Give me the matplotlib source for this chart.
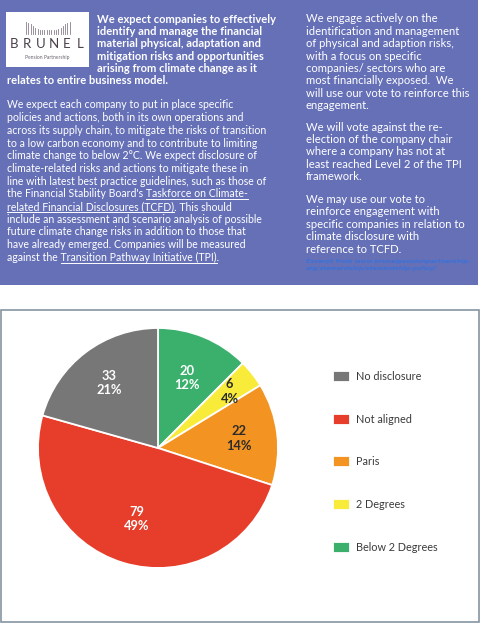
import matplotlib.pyplot as plt
import numpy as np
from matplotlib.patches import Rectangle
from matplotlib.lines import Line2D

W, H = 480, 623

# pie data (clockwise from 12 o'clock)
categories = ["Below 2 Degrees", "2 Degrees", "Paris", "Not aligned", "No disclosure"]
counts = [20, 6, 22, 79, 33]
colors = ["#3bb06c", "#f8eb3a", "#f39322", "#e73d2b", "#777777"]
label_colors = ["white", "#2b2b2b", "#2b2b2b", "white", "white"]
label_radius = [0.63, 0.76, 0.68, 0.62, 0.68]
legend_order = ["No disclosure", "Not aligned", "Paris", "2 Degrees", "Below 2 Degrees"]

heading_lines = [
    "We expect companies to effectively",
    "identify and manage the financial",
    "material physical, adaptation and",
    "mitigation risks and opportunities",
    "arising from climate change as it",
    "relates to entire business model.",
]

# (prefix, underlined part, suffix)
body_lines = [
    ("We expect each company to put in place specific", "", ""),
    ("policies and actions, both in its own operations and", "", ""),
    ("across its supply chain, to mitigate the risks of transition", "", ""),
    ("to a low carbon economy and to contribute to limiting", "", ""),
    ("climate change to below 2°C. We expect disclosure of", "", ""),
    ("climate-related risks and actions to mitigate these in", "", ""),
    ("line with latest best practice guidelines, such as those of", "", ""),
    ("the Financial Stability Board's ", "Taskforce on Climate-", ""),
    ("", "related Financial Disclosures (TCFD)", ". This should"),
    ("include an assessment and scenario analysis of possible", "", ""),
    ("future climate change risks in addition to those that", "", ""),
    ("have already emerged. Companies will be measured", "", ""),
    ("against the ", "Transition Pathway Initiative (TPI)", "."),
]

right_paragraphs = [
    ["We engage actively on the",
     "identification and management",
     "of physical and adaption risks,",
     "with a focus on specific",
     "companies/ sectors who are",
     "most financially exposed.  We",
     "will use our vote to reinforce this",
     "engagement."],
    ["We will vote against the re-",
     "election of the company chair",
     "where a company has not at",
     "least reached Level 2 of the TPI",
     "framework."],
    ["We may use our vote to",
     "reinforce engagement with",
     "specific companies in relation to",
     "climate disclosure with",
     "reference to TCFD."],
]

excerpt_lines = [
    "Excerpt from www.brunelpensionpartnership.",
    "org/stewardship/stewardship-policy/",
]

logo_bars = [12, 11, 10, 8, 6, 5, 4, 4, 4, 4, 4, 4, 4, 4, 5, 6, 8, 10, 11, 12]

PURPLE = "#6570b7"
FONT = "Lato"


def px(x, y):
    return x / W, 1 - y / H


fig = plt.figure(figsize=(W / 100, H / 100), dpi=100)
fig.patch.set_facecolor("white")
renderer = fig.canvas.get_renderer()


def text_width(s, **kw):
    t = fig.text(0, 0, s, **kw)
    w = t.get_window_extent(renderer).width
    t.remove()
    return w


# ---- top text panel ----
fig.patches.append(Rectangle(px(0, 285), 478 / W, 285 / H, transform=fig.transFigure,
                             facecolor=PURPLE, edgecolor="none", zorder=-2))
fig.patches.append(Rectangle(px(6, 67), 83 / W, 55 / H, transform=fig.transFigure,
                             facecolor="white", edgecolor="none", zorder=-1))

# logo
for i, h in enumerate(logo_bars):
    x = 26 + i * 2.3
    fig.add_artist(Line2D([x / W, x / W], [1 - 34 / H, 1 - (34 - h) / H],
                          transform=fig.transFigure, color="#8a7f8c", lw=0.6))
for i, ch in enumerate("BRUNEL"):
    fig.text(*px(14 + i * 13.2, 43.5), ch, fontsize=9.5, family=FONT, color="#4a414b",
             ha="center", va="center")
fig.text(*px(47.5, 57), "Pension Partnership", fontsize=3.6, family=FONT,
         color="#6b6470", ha="center", va="center")

for i, line in enumerate(heading_lines):
    x = 7 if i == len(heading_lines) - 1 else 97
    fig.text(*px(x, 23 + i * 12.2), line, fontsize=8, family=FONT, weight="bold",
             color="white", va="baseline")

body_kw = dict(fontsize=7.6, family=FONT, color="white", va="baseline")
for i, (pre, und, suf) in enumerate(body_lines):
    yb = 108.5 + i * 12.67
    fig.text(*px(7, yb), pre + und + suf, **body_kw)
    if und:
        x0 = 7 + (text_width(pre + "x", **body_kw) - text_width("x", **body_kw) if pre else 0)
        x1 = 7 + text_width(pre + und, **body_kw)
        fig.add_artist(Line2D([x0 / W, x1 / W], [1 - (yb + 2) / H] * 2,
                              transform=fig.transFigure, color="white", lw=0.7))

right_kw = dict(body_kw, fontsize=8.1)
para_tops = [22.5, 130.5, 203]
for top, para in zip(para_tops, right_paragraphs):
    for i, line in enumerate(para):
        fig.text(*px(306, top + i * 12.4), line, **right_kw)

for i, line in enumerate(excerpt_lines):
    fig.text(*px(306, 262.5 + i * 7.4), line, fontsize=4.6, family="DejaVu Sans",
             weight="bold", style="oblique", color="#3a72d8", va="baseline")

# ---- pie chart panel ----
fig.patches.append(Rectangle(px(0.7, 622), 478.3 / W, 312.5 / H, transform=fig.transFigure,
                             facecolor="white", edgecolor="#8593a0", lw=1.2, zorder=-2))

cx, cy, r = 158, 448, 120
ax = fig.add_axes([(cx - r) / W, (H - cy - r) / H, 2 * r / W, 2 * r / H])
ax.patch.set_alpha(0)
total = sum(counts)
wedges, texts, autotexts = ax.pie(
    counts, colors=colors, startangle=90, counterclock=False,
    autopct=lambda p: f"{round(p * total / 100)}\n{p:.0f}%",
    wedgeprops=dict(edgecolor="white", linewidth=1.3),
    textprops=dict(fontsize=9.3, family=FONT, weight="bold"))
ax.set_xlim(-1, 1)
ax.set_ylim(-1, 1)
ax.set_aspect("equal")
ax.axis("off")

for w, t, rad, c in zip(wedges, autotexts, label_radius, label_colors):
    ang = np.deg2rad((w.theta1 + w.theta2) / 2)
    t.set_position((rad * np.cos(ang), rad * np.sin(ang)))
    t.set_color(c)
    t.set_linespacing(1.25)

handles = [wedges[categories.index(name)] for name in legend_order]
fig.legend(handles, legend_order, loc="upper left", bbox_to_anchor=px(333, 371),
           frameon=False, borderpad=0, borderaxespad=0, handlelength=1.55,
           handleheight=1.2, handletextpad=0.6, labelspacing=2.9,
           prop=dict(family=FONT, size=7.8), labelcolor="#3a3a3a")

fig.savefig("out.png", dpi=100)
